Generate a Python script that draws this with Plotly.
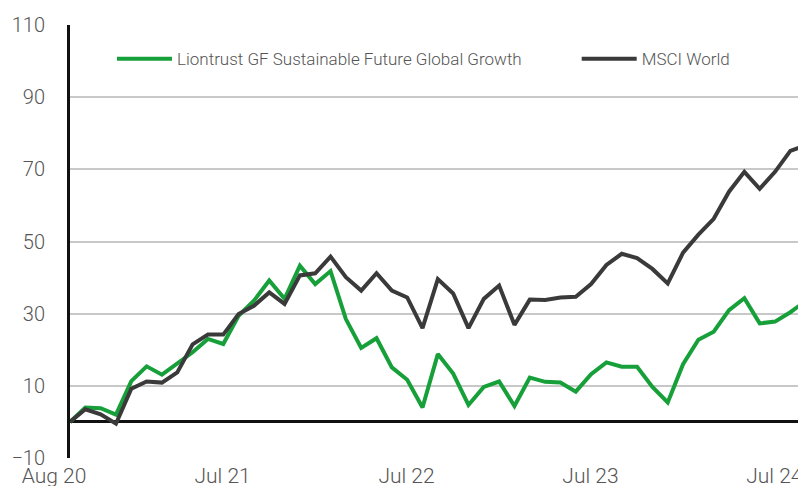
import plotly.graph_objects as go
import pandas as pd

# Monthly categories, Aug 2020 .. Aug 2024
months = [d.strftime("%b %y") for d in pd.date_range("2020-08-01", periods=49, freq="MS")]

liontrust = [0, 4.0, 3.8, 2.0, 11.3, 15.4, 13.1, 16.2, 19.3, 23.0, 21.6, 29.4,
             33.6, 39.2, 34.1, 43.3, 38.2, 41.8, 28.5, 20.5, 23.2, 15.1, 11.7, 4.0,
             18.8, 13.4, 4.7, 9.7, 11.2, 4.4, 12.3, 11.1, 10.9, 8.4, 13.2, 16.5,
             15.3, 15.3, 9.7, 5.4, 16.0, 22.8, 25.0, 31.0, 34.3, 27.3, 27.8, 30.4, 33.5]

msci = [0, 3.5, 2.1, -0.5, 9.2, 11.2, 10.9, 13.7, 21.5, 24.2, 24.2, 29.9,
        32.2, 35.9, 32.7, 40.6, 41.2, 45.8, 40.1, 36.4, 41.2, 36.4, 34.5, 26.0,
        39.6, 35.6, 26.0, 34.1, 37.8, 26.9, 33.9, 33.8, 34.5, 34.7, 38.2, 43.5,
        46.6, 45.4, 42.4, 38.4, 46.9, 51.9, 56.3, 63.8, 69.3, 64.6, 69.3, 75.1, 76.6]

series_names = ["Liontrust GF Sustainable Future Global Growth", "MSCI World"]
series_colors = ["#17a03a", "#3a3a3a"]
series_legends = ["legend", "legend2"]

tick_labels = ["Aug 20", "Jul 21", "Jul 22", "Jul 23", "Jul 24"]
y_ticks = [-10, 10, 30, 50, 70, 90, 110]

x = list(range(len(months)))
tickvals = [months.index(t) for t in tick_labels]

FONT = "Roboto"
TXT = "#555555"

fig = go.Figure()
for name, vals, col, lg in zip(series_names, [liontrust, msci], series_colors, series_legends):
    fig.add_trace(go.Scatter(
        x=x, y=vals, mode="lines", name=name, text=months, legend=lg,
        hovertemplate="%{text}: %{y}<extra>" + name + "</extra>",
        line=dict(color=col, width=4),
    ))

legend_common = dict(
    orientation="h", xanchor="left", y=0.921, yanchor="middle",
    font=dict(family=FONT, size=17, color=TXT, weight=300),
    itemwidth=55, bgcolor="rgba(0,0,0,0)",
)

fig.update_layout(
    width=798, height=486,
    margin=dict(l=70, r=0, t=25, b=28, autoexpand=False),
    paper_bgcolor="white", plot_bgcolor="white",
    font=dict(family=FONT, color=TXT, size=20, weight=300),
    showlegend=True,
    legend=dict(x=0.0577, **legend_common),
    legend2=dict(x=0.696, **legend_common),
    xaxis=dict(
        range=[0, 47.5], showgrid=False, zeroline=False, showline=False,
        tickmode="array", tickvals=tickvals, ticktext=tick_labels,
        ticks="", ticklabelshift=-16, ticklabelstandoff=3,
        ticklabeloverflow="allow", automargin=False,
        tickfont=dict(size=21, color=TXT),
        fixedrange=True,
    ),
    yaxis=dict(
        range=[-10, 110], tickmode="array", tickvals=y_ticks,
        showgrid=True, gridcolor="#c8c8c8", gridwidth=2,
        zeroline=True, zerolinecolor="#111111", zerolinewidth=3,
        showline=True, linecolor="#111111", linewidth=3,
        ticks="", ticklabelstandoff=18, ticklabeloverflow="allow",
        automargin=False, tickfont=dict(size=20, color=TXT),
        fixedrange=True,
    ),
)

fig.write_html("out.html", config={"displayModeBar": False},
               post_script="document.body.style.margin='0px';")
